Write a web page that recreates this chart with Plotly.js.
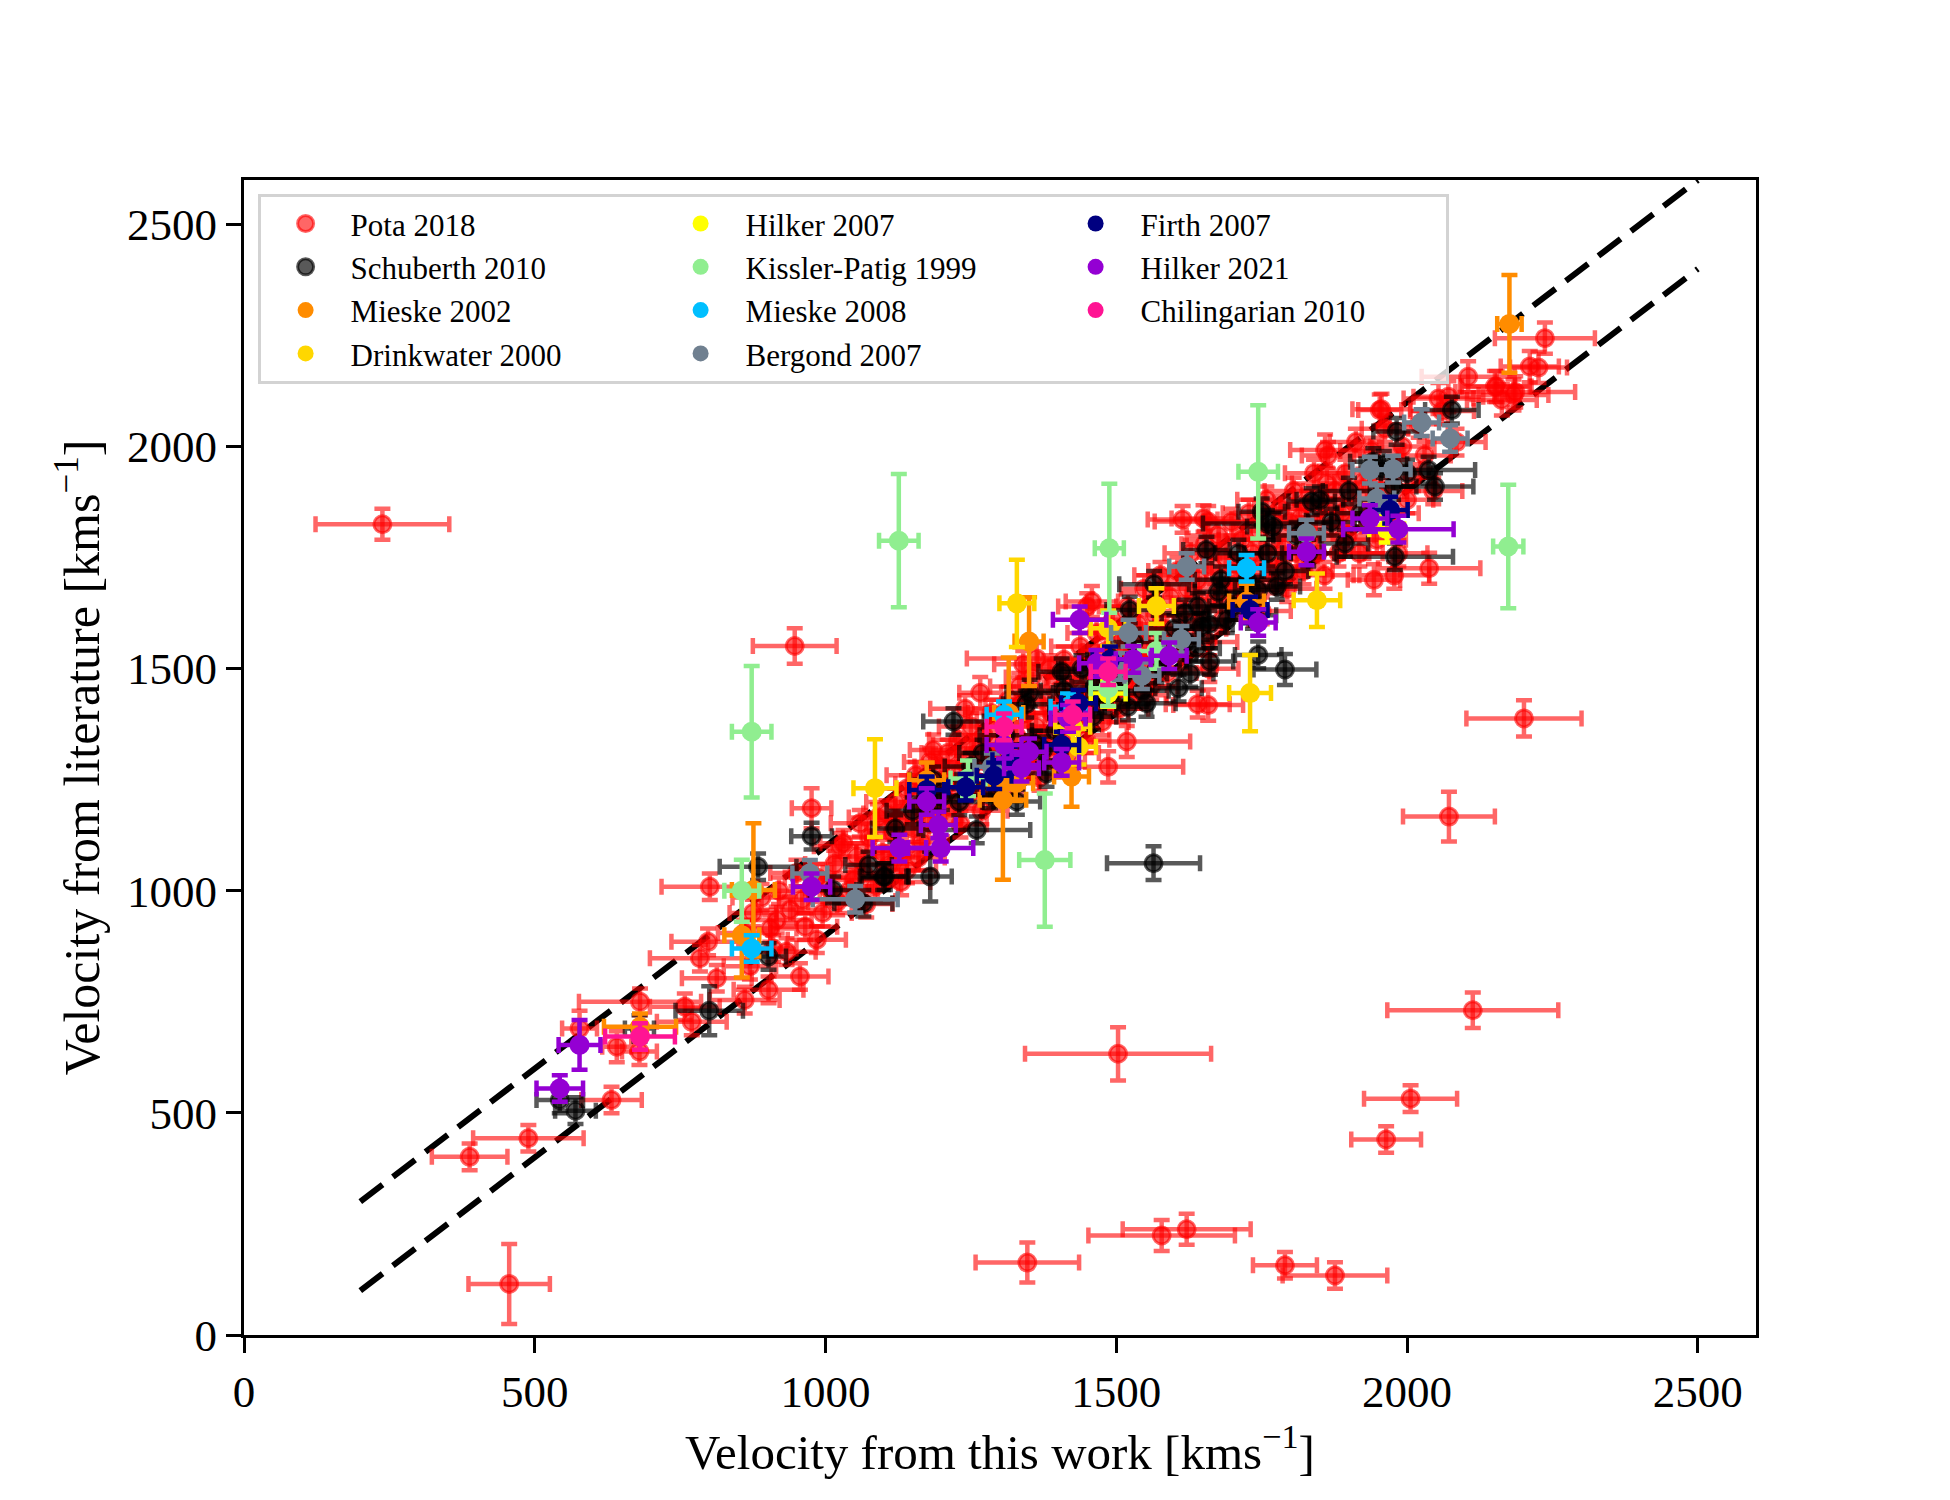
<!DOCTYPE html>
<html>
<head>
<meta charset="utf-8">
<script src="https://cdn.plot.ly/plotly-3.0.1.min.js"></script>
<style>
  body { margin: 0; background: #fff; }
  #plot { width: 1950px; height: 1500px; }
</style>
</head>
<body>
<div id="plot"></div>
<script>
// each row: [v this work, v literature, err this work, err literature]
let pota = [
  [238,1825,115,35],[388,401,65,30],[456,115,70,90],[489,443,95,30],[577,690,30,40],
  [632,529,52,30],[641,649,25,35],[680,638,30,30],[681,750,105,30],[758,739,60,30],
  [770,705,60,30],[813,803,60,30],[861,754,60,30],[902,777,60,30],[956,807,49,30],
  [784,848,86,30],[798,885,63,30],[801,1009,83,30],[916,934,60,30],[939,957,60,30],
  [965,919,55,30],[933,863,50,30],[947,1551,72,40],[976,1186,34,45],[1266,1446,36,35],
  [1185,1317,40,35],[1363,1523,120,35],[1458,1651,45,35],[1486,1279,129,35],[1518,1336,109,35],
  [1658,1418,60,35],[1943,1700,45,35],[2038,1726,88,35],[2201,1388,99,41],[2072,1167,79,56],
  [2113,731,147,40],[1503,633,160,60],[2006,532,80,30],[1964,440,60,30],[1347,163,89,45],
  [1578,224,126,35],[1621,238,110,35],[1790,157,55,30],[1876,134,90,30],[1953,2082,37,35],
  [1859,1992,60,35],[1862,1917,60,35],[1658,1831,92,35],[2054,2108,60,35],[2105,2157,80,35],
  [2154,2135,60,35],[2183,2116,60,35],[2237,2244,86,35],[2211,2180,50,35],[2226,2178,49,35],
  [2151,2135,60,35],[2186,2123,103,35],[2163,2105,60,35],[2071,2112,60,35],[1956,2084,50,35],
  [1614,1836,60,30],[1650,1838,55,30],[1640,1420,55,30],[1978,1710,60,30],
  [860,905,45,30],[875,950,40,30],[890,985,50,30],[905,915,45,30],[920,1000,50,30],
  [950,1040,45,30],[960,980,40,30],[985,1030,55,30],[995,950,50,30],[1005,1005,40,30],
  [910,870,40,30],[870,830,45,30],[985,890,50,30],
  [1015,1060,50,30],[1025,1100,45,30],[1031,1107,40,30],[1040,1000,50,30],[1053,1077,45,30],
  [1059,1152,50,30],[1065,1040,55,30],[1075,1120,45,30],[1085,1010,40,30],[1090,1165,50,30],
  [1098,1085,45,30],[1105,1174,40,30],[1048,1024,60,30],[1020,975,50,30],[1070,970,45,30],
  [1110,1060,50,30],
  [1115,1130,45,30],[1120,1200,50,30],[1125,1160,40,30],[1130,1090,45,30],[1140,1047,50,30],
  [1140,1230,55,30],[1150,1140,45,30],[1155,1260,50,30],[1160,1190,40,30],[1165,1110,45,30],
  [1170,1240,50,30],[1178,1150,55,30],[1180,1290,45,30],[1188,1215,50,30],[1195,1170,40,30],
  [1198,1280,45,30],[1130,1020,50,30],[1160,1075,45,30],
  [1205,1235,50,30],[1210,1310,45,30],[1215,1190,55,30],[1220,1260,40,30],[1228,1340,50,30],
  [1232,1150,45,30],[1240,1290,50,30],[1245,1215,45,30],[1250,1370,55,30],[1255,1320,40,30],
  [1262,1245,50,30],[1268,1180,45,30],[1272,1350,50,30],[1278,1290,45,30],[1285,1400,40,30],
  [1290,1220,50,30],[1295,1330,45,30],[1240,1410,60,30],[1300,1260,50,30],
  [1305,1380,45,30],[1310,1300,50,30],[1315,1430,40,30],[1322,1245,45,30],[1328,1350,55,30],
  [1333,1460,50,30],[1338,1290,45,30],[1345,1400,40,30],[1350,1320,50,30],[1355,1480,45,30],
  [1362,1370,50,30],[1368,1255,55,30],[1372,1430,45,30],[1380,1340,40,30],[1385,1500,50,30],
  [1390,1395,45,30],[1396,1290,50,30],[1400,1450,45,30],[1340,1510,50,30],
  [1405,1360,50,30],[1410,1520,45,30],[1415,1420,40,30],[1420,1310,50,30],[1425,1480,45,30],
  [1432,1390,55,30],[1438,1550,50,30],[1442,1450,45,30],[1448,1340,40,30],[1455,1510,50,30],
  [1460,1420,45,30],[1466,1580,50,30],[1470,1470,55,30],[1476,1380,45,30],[1482,1540,40,30],
  [1488,1440,50,30],[1494,1610,45,30],[1498,1500,50,30],[1450,1640,50,30],
  [1505,1410,50,30],[1510,1570,45,30],[1515,1470,40,30],[1520,1640,50,30],[1526,1530,45,30],
  [1532,1440,55,30],[1538,1600,50,30],[1542,1500,45,30],[1548,1680,40,30],[1555,1560,50,30],
  [1560,1460,45,30],[1566,1620,50,30],[1570,1530,55,30],[1576,1710,45,30],[1582,1590,40,30],
  [1588,1490,50,30],[1594,1660,45,30],[1598,1560,50,30],
  [1605,1720,50,30],[1610,1620,45,30],[1616,1530,40,30],[1622,1680,50,30],[1628,1760,45,30],
  [1634,1590,55,30],[1640,1700,50,30],[1646,1640,45,30],[1652,1780,40,30],[1658,1560,50,30],
  [1664,1730,45,30],[1670,1660,50,30],[1676,1800,55,30],[1682,1610,45,30],[1688,1750,40,30],
  [1694,1690,50,30],[1698,1830,45,30],[1660,1500,50,30],
  [1705,1720,50,30],[1710,1650,45,30],[1716,1790,40,30],[1722,1700,50,30],[1728,1850,45,30],
  [1734,1760,55,30],[1740,1680,50,30],[1746,1810,45,30],[1752,1740,40,30],[1758,1880,50,30],
  [1764,1700,45,30],[1770,1790,50,30],[1776,1730,55,30],[1782,1860,45,30],[1788,1770,40,30],
  [1794,1680,50,30],[1798,1830,45,30],[1750,1630,50,30],
  [1805,1900,50,30],[1810,1760,45,30],[1816,1840,40,30],[1822,1720,50,30],[1828,1870,45,30],
  [1834,1800,55,30],[1840,1940,50,30],[1846,1760,45,30],[1852,1860,40,30],[1858,1710,50,30],
  [1864,1980,45,30],[1870,1820,50,30],[1876,1900,55,30],[1882,1760,45,30],[1888,1850,40,30],
  [1894,1940,50,30],[1898,1800,45,30],
  [1905,1880,50,30],[1912,2010,45,30],[1918,1760,40,30],[1925,1920,50,30],[1932,1840,45,30],
  [1940,1990,55,30],[1948,1790,50,30],[1955,1900,45,30],[1962,2040,40,30],[1970,1850,50,30],
  [1978,1950,45,30],[1985,1760,50,30],[1992,2000,55,30],[2000,1880,45,30],[2010,1930,40,30],
  [2020,2050,50,30],[2030,1980,45,30],[2045,1900,50,30],[2060,2080,55,30],[2085,2010,50,30]
]

let schuberth = [
  [570,505,35,30],[543,529,40,30],[680,690,25,30],[800,730,58,55],[884,1054,66,30],
  [902,852,30,30],[1013,1002,40,30],[1065,972,50,30],[1074,1058,40,30],[1099,1032,40,30],
  [976,1123,35,30],[1220,1381,52,30],[1564,1062,80,38],[1260,1137,92,30],[1180,1032,37,56],
  [1102,1032,40,30],[1283,1216,40,30],[1200,1212,40,30],[1329,1201,40,30],[1380,1264,40,30],
  [1374,1317,40,30],[1460,1392,40,30],[1520,1414,40,30],[1552,1422,50,30],[1406,1493,40,30],
  [1463,1459,40,30],[1351,1445,40,30],[1569,1497,40,30],[1607,1456,40,30],[1627,1489,40,30],
  [1661,1516,40,30],[1638,1546,40,30],[1618,1625,40,30],[1647,1595,40,30],[1523,1632,40,30],
  [1690,1610,40,30],[1790,1498,54,35],[1744,1531,40,30],[1655,1767,40,30],[1675,1673,40,30],
  [1744,1677,40,30],[1776,1685,40,30],[1750,1853,40,30],[1759,1827,110,30],[1836,1876,40,30],
  [1893,1782,40,30],[1979,1752,100,30],[1942,1966,40,30],[1976,1910,40,30],[2037,1947,80,30],
  [2048,1910,66,30],[1982,2034,40,30],[2077,2082,46,30],[1565,1690,60,30],
  [1120,1140,40,30],[1150,1180,45,30],[1185,1250,40,30],[1230,1200,40,30],[1250,1280,45,30],
  [1270,1310,40,30],[1300,1240,40,30],[1310,1350,45,30],[1330,1280,40,30],[1345,1420,40,30],
  [1360,1330,45,30],[1395,1360,40,30],[1410,1450,40,30],[1430,1400,45,30],[1440,1500,40,30],
  [1480,1430,40,30],[1495,1520,45,30],[1510,1480,40,30],[1530,1560,40,30],[1545,1450,45,30],
  [1580,1520,40,30],[1600,1590,40,30],[1620,1560,45,30],[1640,1640,40,30],[1660,1600,40,30],
  [1680,1700,45,30],[1700,1640,40,30],[1710,1760,40,30],[1725,1700,45,30],[1735,1620,40,30],
  [1760,1760,40,30],[1770,1820,45,30],[1790,1720,40,30],[1810,1800,40,30],[1830,1760,45,30],
  [1850,1880,40,30],[1870,1830,40,30],[1900,1900,45,30],[1920,1850,40,30],[1960,1960,40,30],
  [2000,1940,45,30]
]

let mieske2002 = [
  [876,1002,37,150],[856,900,30,95],[681,694,62,30],[1305,1205,40,180],[1350,1561,25,100],
  [1315,1400,25,125],[1174,1249,30,40],[1311,1246,30,40],[1327,1242,30,40],[1423,1257,30,68],
  [1724,1651,30,40],[2176,2276,21,110]
]
let drinkwater2000 = [
  [1329,1647,30,98],[1085,1231,37,110],[1435,1324,30,40],[1425,1369,30,40],[1486,1591,30,40],
  [1569,1641,30,40],[1730,1445,36,86],[1845,1654,40,60]
]
let hilker2007 = [
  [1486,1444,30,30],[1965,1814,30,30]
]
let kissler1999 = [
  [1126,1788,34,150],[873,1358,34,148],[1744,1943,34,150],[2174,1775,26,139],[1488,1771,25,145],
  [1377,1069,44,150],[856,1000,30,70],[1245,1253,30,40],[1486,1456,30,40],[1569,1540,30,40]
]
let mieske2008 = [
  [873,870,34,30],[1307,1396,30,30],[1417,1414,30,30],[1724,1726,30,30]
]
let bergond2007 = [
  [973,1039,30,30],[1051,981,73,30],[1286,1279,30,30],[1506,1505,30,30],[1544,1484,30,30],
  [1521,1580,30,30],[1612,1566,30,30],[1621,1730,30,30],[1827,1805,30,30],[1948,1883,30,30],
  [1936,1947,30,30],[1976,1949,30,30],[2025,2054,30,30],[2074,2018,30,30]
]
let firth2007 = [
  [1174,1227,30,30],[1241,1233,30,30],[1290,1259,30,30],[1317,1294,30,30],[1406,1328,30,30],
  [1435,1422,30,30],[1489,1520,30,30],[1730,1632,30,30],[1971,1857,30,30]
]
let hilker2021 = [
  [543,555,40,30],[577,653,36,56],[976,1009,32,30],[1127,1096,46,30],[1198,1096,56,30],
  [1194,1148,30,30],[1174,1201,30,30],[1307,1328,30,30],[1350,1313,30,30],[1337,1276,30,30],
  [1406,1289,30,30],[1417,1388,30,30],[1466,1512,30,30],[1529,1521,30,30],[1591,1529,30,30],
  [1437,1610,46,30],[1744,1604,30,30],[1827,1763,30,30],[1936,1838,30,30],[1985,1814,95,30]
]
let chilingarian2010 = [
  [681,672,60,30],[1307,1369,30,30],[1425,1396,30,30],[1486,1493,30,30]
]

// the two dashed guide lines (+-100 km/s)
let lineX = [200, 2500]
let upperY = [300, 2600]
let lowerY = [100, 2400]

let series = [
  { name: 'Pota 2018', rows: pota, color: 'rgba(255,0,0,0.6)', rank: 1, edge: true },
  { name: 'Schuberth 2010', rows: schuberth, color: 'rgba(0,0,0,0.65)', rank: 4, edge: true },
  { name: 'Mieske 2002', rows: mieske2002, color: '#ff8c00', rank: 7 },
  { name: 'Drinkwater 2000', rows: drinkwater2000, color: '#ffd700', rank: 10 },
  { name: 'Hilker 2007', rows: hilker2007, color: '#ffff00', rank: 2 },
  { name: 'Kissler-Patig 1999', rows: kissler1999, color: '#90ee90', rank: 5 },
  { name: 'Mieske 2008', rows: mieske2008, color: '#00bfff', rank: 8 },
  { name: 'Bergond 2007', rows: bergond2007, color: '#708090', rank: 11 },
  { name: 'Firth 2007', rows: firth2007, color: '#000080', rank: 3 },
  { name: 'Hilker 2021', rows: hilker2021, color: '#9400d3', rank: 6 },
  { name: 'Chilingarian 2010', rows: chilingarian2010, color: '#ff1493', rank: 9 }
]

let font = 'Liberation Serif, Times New Roman, serif'
let traces = []

for (let y of [upperY, lowerY]) {
    traces.push({
        x: lineX,
        y: y,
        mode: 'lines',
        line: { color: 'black', width: 6, dash: '28px,13px' },
        showlegend: false,
        hoverinfo: 'skip'
    })
}

for (let s of series) {
    traces.push({
        name: s.name,
        legendrank: s.rank,
        x: s.rows.map(r => r[0]),
        y: s.rows.map(r => r[1]),
        mode: 'markers',
        type: 'scatter',
        marker: {
            color: s.color,
            size: s.edge ? 17 : 20,
            line: { color: s.color, width: s.edge ? 3 : 0 }
        },
        error_x: { type: 'data', array: s.rows.map(r => r[2]), visible: true, color: s.color, thickness: 4.5, width: 8 },
        error_y: { type: 'data', array: s.rows.map(r => r[3]), visible: true, color: s.color, thickness: 4.5, width: 8 }
    })
}

let axis = {
    range: [0, 2600],
    tick0: 0,
    dtick: 500,
    ticks: 'outside',
    ticklen: 15,
    tickwidth: 3,
    tickcolor: 'black',
    showline: true,
    linewidth: 3,
    linecolor: 'black',
    mirror: true,
    showgrid: false,
    zeroline: false,
    automargin: true,
    tickfont: { family: font, size: 45, color: 'black' }
}

Plotly.newPlot('plot', traces, {
    width: 1950,
    height: 1500,
    paper_bgcolor: 'white',
    plot_bgcolor: 'white',
    margin: { l: 244, r: 194, t: 180, b: 165 },
    font: { family: font, color: 'black' },
    showlegend: true,
    xaxis: Object.assign({}, axis, {
        title: { text: 'Velocity from this work [kms<sup>−1</sup>]', font: { family: font, size: 49 }, standoff: 2 }
    }),
    yaxis: Object.assign({}, axis, {
        title: { text: 'Velocity from literature [kms<sup>−1</sup>]', font: { family: font, size: 50 }, standoff: 12 }
    }),
    legend: {
        x: 0.009,
        y: 0.988,
        xanchor: 'left',
        yanchor: 'top',
        orientation: 'h',
        itemwidth: 80,
        entrywidth: 300,
        bgcolor: 'rgba(255,255,255,0.8)',
        bordercolor: '#d3d3d3',
        borderwidth: 3,
        font: { family: font, size: 31, color: 'black' }
    }
}, { staticPlot: true });
</script>
</body>
</html>
